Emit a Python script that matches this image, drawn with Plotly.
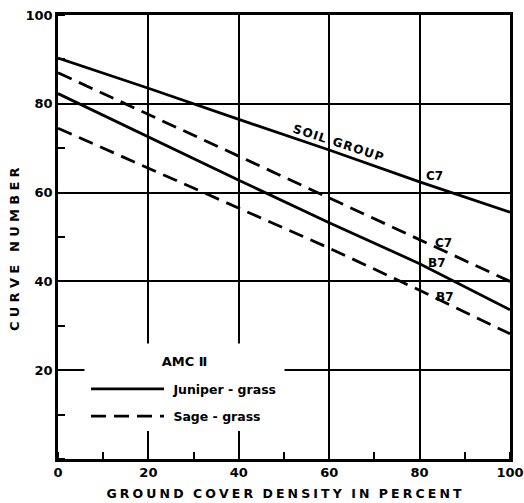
import plotly.graph_objects as go

density = [0, 20, 40, 60, 80, 100]
juniper_c = [90.3, 83.5, 76.5, 69.6, 62.4, 55.6]
sage_c = [87.0, 77.6, 68.2, 58.8, 49.3, 40.0]
juniper_b = [82.3, 72.5, 62.8, 53.2, 44.0, 33.6]
sage_b = [74.5, 65.5, 56.5, 47.5, 38.0, 28.2]

x_ticks = [0, 20, 40, 60, 80, 100]
y_ticks = [20, 40, 60, 80, 100]

FONT = "DejaVu Sans"
solid = dict(color="black", width=2.8)
dashed = dict(color="black", width=2.8, dash="15px,8px")


def spaced(s, gap="\u2005", word_gap=None):
    if word_gap is None:
        word_gap = gap * 3
    words = s.split(" ")
    return word_gap.join(gap.join(w) for w in words)


fig = go.Figure()
fig.add_trace(go.Scatter(x=density, y=juniper_c, mode="lines", line=solid,
                         name="\u00a0Juniper - grass", legendgroup="j"))
fig.add_trace(go.Scatter(x=density, y=juniper_b, mode="lines", line=solid,
                         name="\u00a0Juniper - grass", legendgroup="j", showlegend=False))
fig.add_trace(go.Scatter(x=density, y=sage_c, mode="lines", line=dashed,
                         name="\u00a0Sage - grass", legendgroup="s"))
fig.add_trace(go.Scatter(x=density, y=sage_b, mode="lines", line=dashed,
                         name="\u00a0Sage - grass", legendgroup="s", showlegend=False))

labels = [
    dict(x=62.0, y=71.2, text=spaced("SOIL GROUP", "\u200a", "\u00a0\u2005"), textangle=18, size=12),
    dict(x=83.2, y=63.7, text="C7", textangle=0, size=12),
    dict(x=85.2, y=48.6, text="C7", textangle=0, size=12),
    dict(x=83.9, y=44.1, text="B7", textangle=0, size=12),
    dict(x=85.6, y=36.5, text="B7", textangle=0, size=12),
]
for a in labels:
    fig.add_annotation(x=a["x"], y=a["y"], text=a["text"], textangle=a["textangle"],
                       showarrow=False, xref="x", yref="y",
                       font=dict(family=FONT, size=a["size"], color="black", weight="bold"))

# legend heading (white block also masks the grid, like the original's legend area)
fig.add_annotation(x=0.0575, y=0.262, xref="paper", yref="paper", xanchor="left", yanchor="top",
                   width=199, height=34, bgcolor="white", borderpad=0, showarrow=False,
                   text="AMC Ⅱ", align="center",
                   font=dict(family=FONT, size=13, color="black", weight="bold"))

# y-axis title
fig.add_annotation(x=-0.095, y=0.473, xref="paper", yref="paper", xanchor="center", yanchor="middle",
                   textangle=-90, showarrow=False, text=spaced("CURVE NUMBER", "\u2004"),
                   font=dict(family=FONT, size=13, color="black", weight="bold"))

axis_common = dict(
    showline=True, linecolor="black", linewidth=2.5, mirror=True,
    showgrid=True, gridcolor="black", gridwidth=1.9,
    zeroline=False, ticks="", tickcolor="black", automargin=False,
    tickfont=dict(family=FONT, size=13, color="black", weight="bold"),
    minor=dict(dtick=10, ticks="inside", ticklen=7, tickcolor="black", tickwidth=1.5, showgrid=False),
)

fig.update_xaxes(range=[0, 100], tickvals=x_ticks, ticktext=[str(v) for v in x_ticks],
                 title=dict(text=spaced("GROUND COVER DENSITY IN PERCENT"),
                            font=dict(family=FONT, size=12.5, color="black", weight="bold"), standoff=10),
                 **axis_common)
fig.update_yaxes(range=[0, 100], tickvals=y_ticks, ticktext=[str(v) for v in y_ticks],
                 **axis_common)

fig.update_layout(
    width=524, height=503,
    margin=dict(l=58, r=14, t=15, b=44),
    paper_bgcolor="white", plot_bgcolor="white",
    showlegend=True,
    legend=dict(
        x=0.062, y=0.191, xanchor="left", yanchor="top",
        bgcolor="white", borderwidth=0,
        itemwidth=73,
        font=dict(family=FONT, size=12.5, color="black", weight="bold"),
        tracegroupgap=8,
    ),
)

fig.write_html(
    "out.html",
    config={"displayModeBar": False},
    post_script="document.body.style.margin='0';document.body.style.overflow='hidden';",
)
